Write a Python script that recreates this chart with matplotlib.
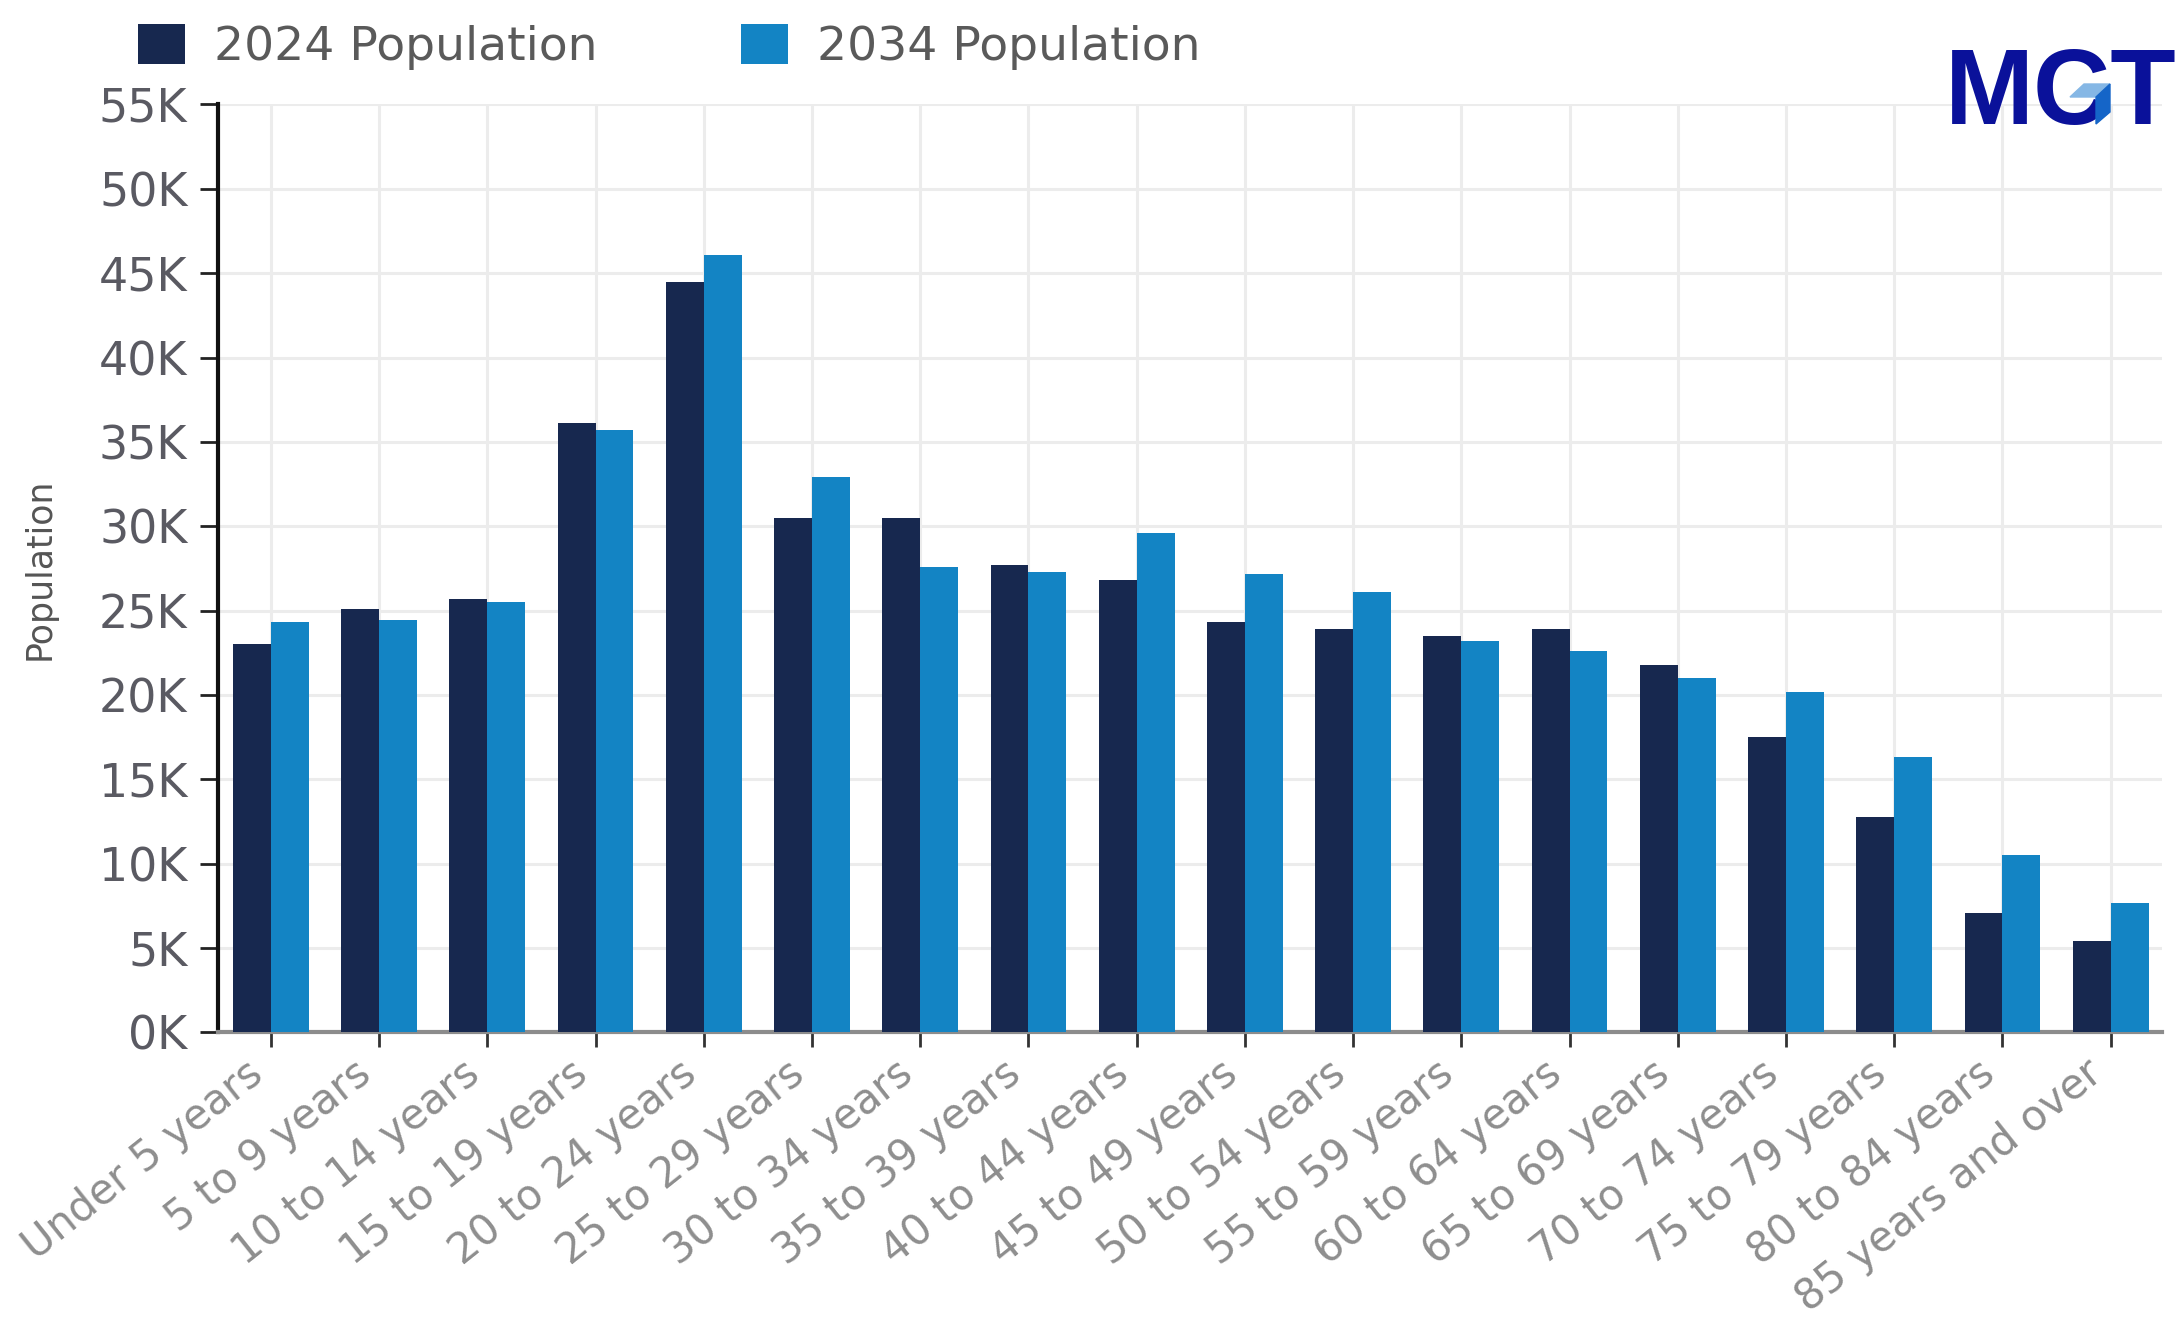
import matplotlib
matplotlib.use("Agg")
import numpy as np
import matplotlib.pyplot as plt
from matplotlib.patches import Polygon

age_groups = [
    "Under 5 years", "5 to 9 years", "10 to 14 years", "15 to 19 years",
    "20 to 24 years", "25 to 29 years", "30 to 34 years", "35 to 39 years",
    "40 to 44 years", "45 to 49 years", "50 to 54 years", "55 to 59 years",
    "60 to 64 years", "65 to 69 years", "70 to 74 years", "75 to 79 years",
    "80 to 84 years", "85 years and over",
]
pop_2024 = [23000, 25100, 25700, 36100, 44500, 30500, 30500, 27700, 26800,
            24300, 23900, 23500, 23900, 21800, 17500, 12800, 7100, 5400]
pop_2034 = [24300, 24450, 25500, 35700, 46100, 32900, 27600, 27300, 29600,
            27200, 26100, 23200, 22600, 21000, 20200, 16300, 10500, 7700]
y_ticks = list(range(0, 55001, 5000))
y_tick_labels = [f"{v // 1000}K" for v in y_ticks]

dark = "#17284f"
blue = "#1384c4"
W, H = 2179, 1322

fig = plt.figure(figsize=(W / 100, H / 100), dpi=100)
ax = fig.add_axes([0.100, 0.219, 0.892, 0.702])

x = np.arange(len(age_groups))
w = 0.35
b1 = ax.bar(x - w / 2, pop_2024, width=w, color=dark, label="2024 Population", zorder=3)
b2 = ax.bar(x + w / 2, pop_2034, width=w, color=blue, label="2034 Population", zorder=3)

ax.set_xlim(-0.49, 17.47)
ax.set_ylim(0, 55000)
ax.set_yticks(y_ticks)
ax.set_yticklabels(y_tick_labels, fontsize=33, color="#5a5a62")
ax.set_xticks(x)
ax.set_xticklabels(age_groups, rotation=38.5, ha="right", va="top",
                   fontsize=30, color="#8e8e8e")

ax.grid(True, color="#ececec", linewidth=2.2, zorder=0)
ax.set_axisbelow(True)
for s in ["top", "right"]:
    ax.spines[s].set_visible(False)
ax.spines["left"].set_color("#111111")
ax.spines["left"].set_linewidth(3)
ax.spines["bottom"].set_color("#8c8c8c")
ax.spines["bottom"].set_linewidth(3)
ax.tick_params(axis="y", length=13, width=2, color="#222222", pad=9)
ax.tick_params(axis="x", length=11, width=2, color="#333333", pad=3)

ax.set_ylabel("Population", fontsize=25, color="#555555")
ax.yaxis.set_label_coords(-0.083, 0.5)

fig.legend(handles=[b1, b2], loc="upper left", bbox_to_anchor=(0.0525, 1.0),
           ncol=2, frameon=False, fontsize=34, handlelength=1.0,
           handleheight=0.95, handletextpad=0.6, columnspacing=3.05,
           borderpad=0, labelcolor="#5a5a5a")

# logo
fig.text(2177 / W, 1 - 124 / H, "MCT", fontsize=77, fontweight="bold",
         color="#0a119a", ha="right", va="baseline", family="Liberation Sans")
acc_top = [(2084, 84), (2110, 84), (2096, 97), (2070, 97)]
fig.patches.append(Polygon([(px / W, 1 - py / H) for px, py in acc_top], closed=True,
                           transform=fig.transFigure, color="#85b7e5", zorder=5))
acc_side = [(2096, 97), (2110, 84), (2110, 112), (2096, 124)]
fig.patches.append(Polygon([(px / W, 1 - py / H) for px, py in acc_side], closed=True,
                           transform=fig.transFigure, color="#1565c8", zorder=5))

fig.savefig("out.png", dpi=100)
